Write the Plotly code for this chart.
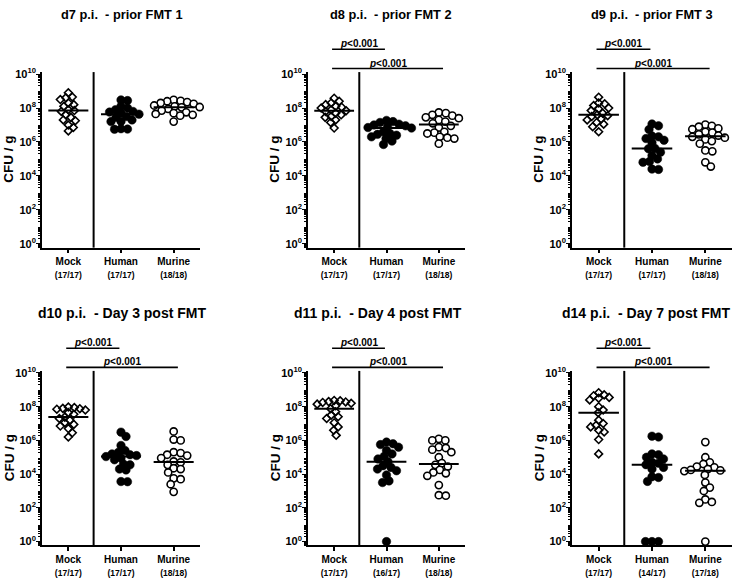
import numpy as np
import plotly.graph_objects as go

# ---------------- data (log10 CFU / g) ----------------
groups = ["Mock", "Human", "Murine"]

titles = [
    "d7 p.i.\u00a0 - prior FMT 1",
    "d8 p.i.\u00a0 - prior FMT 2",
    "d9 p.i.\u00a0 - prior FMT 3",
    "d10 p.i.\u00a0 - Day 3 post FMT",
    "d11 p.i.\u00a0 - Day 4 post FMT",
    "d14 p.i.\u00a0 - Day 7 post FMT",
]

d7_mock = [8.9, 8.65, 8.6, 8.5, 8.3, 8.2, 8.1, 7.9, 7.85, 7.8, 7.6, 7.45, 7.3, 7.25, 7.0, 6.85, 6.65]
d7_human = [8.48, 8.44, 8.1, 8.0, 7.9, 7.8, 7.76, 7.7, 7.64, 7.5, 7.45, 7.3, 7.21, 7.2, 6.78, 6.76, 6.75]
d7_murine = [8.48, 8.42, 8.4, 8.35, 8.3, 8.25, 8.15, 8.1, 8.06, 8.04, 7.95, 7.85, 7.75, 7.7, 7.65, 7.6, 7.55, 7.2]

d8_mock = [8.58, 8.4, 8.3, 8.2, 8.1, 8.05, 8.0, 7.9, 7.84, 7.8, 7.7, 7.6, 7.5, 7.45, 7.3, 7.15, 6.82]
d8_human = [7.27, 7.2, 7.15, 7.05, 7.0, 6.95, 6.9, 6.85, 6.82, 6.6, 6.5, 6.45, 6.4, 6.3, 6.2, 6.05, 5.85]
d8_murine = [7.74, 7.7, 7.6, 7.55, 7.45, 7.4, 7.3, 7.2, 7.1, 6.95, 6.85, 6.6, 6.55, 6.5, 6.3, 6.25, 6.2, 5.9]

d9_mock = [8.64, 8.3, 8.25, 8.15, 8.0, 7.95, 7.85, 7.7, 7.6, 7.55, 7.5, 7.35, 7.3, 7.15, 7.05, 6.9, 6.6]
d9_human = [7.06, 6.95, 6.73, 6.35, 6.3, 6.2, 6.1, 5.95, 5.62, 5.6, 5.4, 5.2, 5.0, 4.85, 4.8, 4.4, 4.38]
d9_murine = [7.02, 6.95, 6.9, 6.8, 6.75, 6.6, 6.55, 6.45, 6.38, 6.3, 6.25, 6.15, 6.05, 5.9, 5.5, 5.45, 4.8, 4.55]

d10_mock = [7.98, 7.95, 7.9, 7.88, 7.85, 7.8, 7.65, 7.55, 7.38, 7.3, 7.2, 7.05, 6.95, 6.85, 6.7, 6.45, 6.2]
d10_human = [6.49, 6.23, 5.7, 5.4, 5.3, 5.2, 5.15, 5.1, 5.04, 4.95, 4.85, 4.6, 4.55, 4.3, 4.25, 3.56, 3.55]
d10_murine = [6.53, 6.05, 6.0, 5.3, 5.25, 5.15, 5.1, 4.95, 4.75, 4.7, 4.55, 4.35, 4.3, 4.1, 3.75, 3.7, 3.4, 2.95]

d11_mock = [8.37, 8.35, 8.3, 8.28, 8.25, 8.2, 8.15, 8.05, 7.88, 7.7, 7.5, 7.4, 7.3, 7.05, 6.8, 6.6, 6.3]
d11_human = [5.9, 5.8, 5.75, 5.6, 5.4, 5.2, 5.05, 4.9, 4.74, 4.5, 4.4, 4.3, 4.2, 3.95, 3.6, 3.5, 0.0]
d11_murine = [6.09, 6.0, 6.0, 5.6, 5.55, 5.45, 5.3, 5.0, 4.65, 4.55, 4.45, 4.25, 4.1, 4.05, 3.9, 3.35, 2.75, 2.72]

d14_mock = [8.83, 8.7, 8.65, 8.55, 8.5, 8.4, 8.0, 7.8, 7.64, 7.2, 7.0, 6.9, 6.8, 6.6, 6.5, 6.05, 5.2]
d14_human = [6.25, 6.2, 5.2, 5.15, 5.0, 4.9, 4.7, 4.65, 4.56, 4.4, 4.3, 3.85, 3.8, 3.57, 0.0, 0.0, 0.0]
d14_murine = [5.9, 5.0, 4.7, 4.6, 4.45, 4.4, 4.3, 4.25, 4.22, 4.18, 3.95, 3.5, 3.2, 3.0, 2.5, 2.35, 2.3, 0.0]

d7_counts = ["(17/17)", "(17/17)", "(18/18)"]
d8_counts = ["(17/17)", "(17/17)", "(18/18)"]
d9_counts = ["(17/17)", "(17/17)", "(18/18)"]
d10_counts = ["(17/17)", "(17/17)", "(18/18)"]
d11_counts = ["(17/17)", "(16/17)", "(18/18)"]
d14_counts = ["(17/17)", "(14/17)", "(17/18)"]

# significance brackets: (from group, to group) ; panel 1 has none
sig_pairs = [(0, 1), (0, 2)]
panels_with_sig = [False, True, True, True, True, True]

y_tick_exponents = [0, 2, 4, 6, 8, 10]

panels = [
    (d7_mock, d7_human, d7_murine, d7_counts),
    (d8_mock, d8_human, d8_murine, d8_counts),
    (d9_mock, d9_human, d9_murine, d9_counts),
    (d10_mock, d10_human, d10_murine, d10_counts),
    (d11_mock, d11_human, d11_murine, d11_counts),
    (d14_mock, d14_human, d14_murine, d14_counts),
]

# ---------------- layout geometry ----------------
W, H = 734, 581
FONT = "Liberation Sans, Arial, sans-serif"
col_px = [(42, 200), (308, 465), (572, 732)]
row_px = [(67, 245), (370, 547)]
title_px = [(122, 9), (391, 9), (652, 9), (122, 311), (378, 311), (646, 311)]
title_size = [12.8, 12.8, 12.8, 14, 14, 14]
XR = [-0.5, 2.5]
YR = [-0.23, 10.12]


def px2paper_x(px):
    return px / W


def px2paper_y(py):
    return 1 - py / H


def xdom(xv):
    return (xv - XR[0]) / (XR[1] - XR[0])


def swarm(vals, px_per_dec, px_per_unit, gap):
    """Simple deterministic beeswarm: each point goes to the nearest free column."""
    vals = np.asarray(vals, dtype=float)
    order = np.argsort(-vals, kind="stable")
    placed = []
    offs = np.zeros(len(vals))
    for i in order:
        y = vals[i] * px_per_dec
        chosen = 0.0
        found = False
        for step in range(0, 400):
            cands = [0.0] if step == 0 else [step * 0.5, -step * 0.5]
            for c in cands:
                if all((c - px) ** 2 + (y - py) ** 2 >= gap ** 2 for px, py in placed):
                    chosen = c
                    found = True
                    break
            if found:
                break
        placed.append((chosen, y))
        offs[i] = chosen / px_per_unit
    return offs


styles = [
    dict(symbol="diamond-open", size=6, color="black", line=dict(width=1.6, color="black")),
    dict(symbol="circle", size=8.5, color="black", line=dict(width=0.5, color="black")),
    dict(symbol="circle", size=7.2, color="white", line=dict(width=1.6, color="black")),
]
swarm_gap = [5.6, 6.4, 6.6]

fig = go.Figure()
shapes = []
annotations = []
minor_vals = [k * 10.0 ** d for d in range(-1, 10) for k in range(2, 10)]

for p, (mock, human, murine, counts) in enumerate(panels):
    r, c = divmod(p, 3)
    idx = "" if p == 0 else str(p + 1)
    xa, ya = "x" + idx, "y" + idx
    x0px, x1px = col_px[c]
    y0px, y1px = row_px[r]
    ppu = (x1px - x0px) / (XR[1] - XR[0])
    ppd = (y1px - y0px) / (YR[1] - YR[0])

    for g, vals in enumerate([mock, human, murine]):
        offs = swarm(vals, ppd, ppu, swarm_gap[g])
        xs = g + offs
        fig.add_trace(go.Scatter(
            x=xs, y=[10.0 ** v for v in vals], mode="markers",
            marker=styles[g], xaxis=xa, yaxis=ya, showlegend=False,
            hoverinfo="skip", cliponaxis=False))
        med = float(np.median(vals))
        fig.add_trace(go.Scatter(
            x=[g - 0.38, g + 0.38], y=[10.0 ** med] * 2, mode="lines",
            line=dict(color="black", width=2), xaxis=xa, yaxis=ya,
            showlegend=False, hoverinfo="skip"))

    ticktext_x = [f"<b>{gname}</b><br><b><span style='font-size:8.5px'>{cnt}</span></b>"
                  for gname, cnt in zip(groups, counts)]
    fig.layout["xaxis" + idx] = dict(
        domain=[px2paper_x(x0px), px2paper_x(x1px)], range=XR, anchor=ya,
        showline=True, linecolor="black", linewidth=1.6, mirror=False,
        ticks="outside", ticklen=4, tickwidth=1.5, tickcolor="black",
        tickvals=[0, 1, 2], ticktext=ticktext_x,
        tickfont=dict(family=FONT, size=10, color="black"),
        showgrid=False, zeroline=False, fixedrange=True)
    fig.layout["yaxis" + idx] = dict(
        domain=[px2paper_y(y1px), px2paper_y(y0px)], type="log", range=YR, anchor=xa,
        showline=True, linecolor="black", linewidth=1.6,
        ticks="outside", ticklen=4, tickwidth=1.2, tickcolor="black",
        tickvals=[10.0 ** e for e in y_tick_exponents],
        ticktext=[f"<b>10<sup>{e}</sup></b>" for e in y_tick_exponents],
        tickfont=dict(family=FONT, size=11, color="black"),
        ticklabelstandoff=-2,
        minor=dict(tickmode="array", tickvals=minor_vals, ticks="outside",
                   ticklen=2, tickwidth=0.8, tickcolor="black", showgrid=False),
        showgrid=False, zeroline=False, fixedrange=True)

    # separator between Mock and FMT groups
    shapes.append(dict(type="line", xref=xa + " domain", yref=ya + " domain",
                       x0=xdom(0.48), x1=xdom(0.48), y0=0, y1=1,
                       line=dict(color="black", width=2)))

    # significance bars
    if panels_with_sig[p]:
        for k, (ga, gb) in enumerate(sig_pairs):
            yb = 1.13 if k == 0 else 1.02
            xa0 = ga - 0.04
            xb1 = gb - 0.03 if k == 0 else gb + 0.08
            shapes.append(dict(type="line", xref=xa + " domain", yref=ya + " domain",
                               x0=xdom(xa0), x1=xdom(xb1), y0=yb, y1=yb,
                               line=dict(color="black", width=1.6)))
            annotations.append(dict(
                xref=xa + " domain", yref=ya + " domain", x=xdom((xa0 + xb1) / 2), y=yb,
                text="<b><i>p</i>&lt;0.001</b>", showarrow=False, xanchor="center",
                yanchor="bottom", yshift=-2,
                font=dict(family=FONT, size=10, color="black")))

    # y axis title
    annotations.append(dict(
        xref="paper", yref="paper", x=px2paper_x(x0px - 33),
        y=px2paper_y((y0px + y1px) / 2), text="<b>CFU / g</b>", textangle=-90,
        showarrow=False, xanchor="center", yanchor="middle",
        font=dict(family=FONT, size=13.5, color="black")))

    # panel title
    tx, ty = title_px[p]
    annotations.append(dict(
        xref="paper", yref="paper", x=px2paper_x(tx), y=px2paper_y(ty),
        text="<b>" + titles[p] + "</b>", showarrow=False, xanchor="center",
        yanchor="middle", font=dict(family=FONT, size=title_size[p], color="black")))

fig.update_layout(
    width=W, height=H, margin=dict(l=0, r=0, t=0, b=0),
    paper_bgcolor="white", plot_bgcolor="white", showlegend=False,
    shapes=shapes, annotations=annotations,
    font=dict(family=FONT, color="black"))

fig.write_html("out.html", config={"displayModeBar": False},
               post_script="document.body.style.margin='0px';"
                           "document.body.style.overflow='hidden';")
